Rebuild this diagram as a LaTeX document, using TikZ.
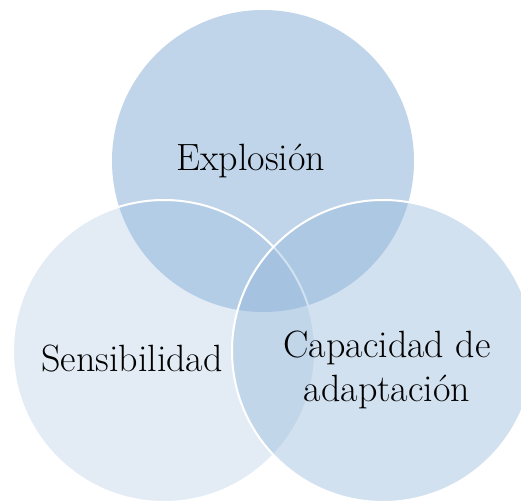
\documentclass[tikz,border=0pt]{standalone}
\usepackage{tikz}
\definecolor{vennblue}{RGB}{143,180,217}
\begin{document}
\begin{tikzpicture}[x=1pt,y=-1pt,
    venn/.style={circle,minimum size=302pt,inner sep=0pt,fill=vennblue},
    rim/.style={draw=white,line width=2pt},
    vtext/.style={font=\fontsize{38}{44}\selectfont,align=center,text=black}]
    \useasboundingbox (0,0) rectangle (521,502);
    \node[venn,fill opacity=0.56] (top) at (263,161) {};
    \node[venn,rim,fill opacity=0.25] (left) at (164,351) {};
    \node[venn,rim,fill opacity=0.40] (right) at (383,351) {};
    \node[vtext] (explosion) at (251,161) {Explosión};
    \node[vtext] (sensibilidad) at (132,359) {Sensibilidad};
    \node[vtext] (capacidad) at (387,370) {Capacidad de\\adaptación};
\end{tikzpicture}
\end{document}
